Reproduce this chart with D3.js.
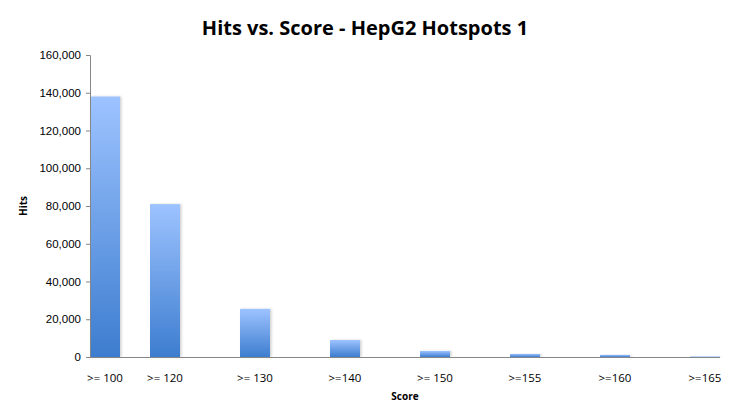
<!DOCTYPE html>
<html lang="en">
<head>
  <meta charset="UTF-8">
  <title>Hits vs. Score - HepG2 Hotspots 1</title>
  <script src="https://d3js.org/d3.v7.min.js"></script>
  <style>
    body {
      margin: 0;
      background: #fff;
      font-family: 'Open Sans', 'Noto Sans', sans-serif;
    }
    svg { display: block; }
    .title {
      font-size: 20px;
      font-weight: 700;
      fill: #000;
    }
    .tick text {
      font-size: 11.5px;
      fill: #000;
    }
    .axis-label {
      font-size: 10px;
      font-weight: 700;
      fill: #000;
    }
  </style>
</head>
<body>
  <svg id="chart" width="731" height="418"></svg>

  <script>
    // score buckets and the number of hits in each
    const categories = [">= 100", ">= 120", ">= 130", ">=140", ">= 150", ">=155", ">=160", ">=165"];
    const hits = [138000, 81000, 25500, 9000, 3200, 1600, 1100, 300];
    // which slot of the 21-slot category axis each bucket sits in
    const slots = [0, 2, 5, 8, 11, 14, 17, 20];
    const yTicks = [0, 20000, 40000, 60000, 80000, 100000, 120000, 140000, 160000];

    const svg = d3.select("#chart");
    const margin = { top: 55, right: 11, bottom: 61, left: 90 };
    const width = 731 - margin.left - margin.right,
          height = 418 - margin.top - margin.bottom;

    const data = categories.map((c, i) => ({ label: c, value: hits[i], slot: slots[i] }));

    const x = d3.scaleBand()
      .domain(d3.range(21))
      .range([0, width])
      .padding(0);

    const y = d3.scaleLinear()
      .domain([0, 160000])
      .range([height, 0]);

    const defs = svg.append("defs");
    const grad = defs.append("linearGradient")
      .attr("id", "barGrad")
      .attr("x1", 0).attr("y1", 0)
      .attr("x2", 0).attr("y2", 1);
    grad.append("stop").attr("offset", "0%").attr("stop-color", "#9dc3ff");
    grad.append("stop").attr("offset", "100%").attr("stop-color", "#3d7dcf");

    const shadow = defs.append("filter")
      .attr("id", "shadow")
      .attr("x", "-20%").attr("y", "-20%")
      .attr("width", "150%").attr("height", "140%");
    shadow.append("feDropShadow")
      .attr("dx", 1.5).attr("dy", 0)
      .attr("stdDeviation", 1.2)
      .attr("flood-color", "#000")
      .attr("flood-opacity", 0.18);

    svg.append("text")
      .attr("class", "title")
      .attr("x", 365)
      .attr("y", 35)
      .attr("text-anchor", "middle")
      .text("Hits vs. Score - HepG2 Hotspots 1");

    const g = svg.append("g")
      .attr("transform", `translate(${margin.left},${margin.top})`);

    g.selectAll(".bar")
      .data(data)
      .enter().append("rect")
      .attr("class", "bar")
      .attr("x", d => x(d.slot))
      .attr("y", d => y(d.value))
      .attr("width", x.bandwidth())
      .attr("height", d => height - y(d.value))
      .attr("fill", "url(#barGrad)")
      .attr("filter", "url(#shadow)");

    // y axis
    const yAxis = g.append("g")
      .call(d3.axisLeft(y).tickValues(yTicks).tickSize(4).tickPadding(5)
        .tickFormat(d3.format(",")));
    yAxis.select(".domain").attr("stroke", "#868686");
    yAxis.selectAll(".tick line").attr("stroke", "#868686");

    // x axis (no tick marks, just the baseline)
    g.append("line")
      .attr("x1", 0).attr("x2", width)
      .attr("y1", height + 0.5).attr("y2", height + 0.5)
      .attr("stroke", "#868686");

    g.selectAll(".xlabel")
      .data(data)
      .enter().append("text")
      .attr("class", "xlabel")
      .attr("x", d => x(d.slot) + x.bandwidth() / 2)
      .attr("y", height + 25)
      .attr("text-anchor", "middle")
      .style("font-size", "11.5px")
      .text(d => d.label);

    svg.append("text")
      .attr("class", "axis-label")
      .attr("x", margin.left + width / 2)
      .attr("y", 400)
      .attr("text-anchor", "middle")
      .text("Score");

    svg.append("text")
      .attr("class", "axis-label")
      .attr("transform", `translate(27,${margin.top + height / 2}) rotate(-90)`)
      .attr("text-anchor", "middle")
      .text("Hits");
  </script>
</body>
</html>
